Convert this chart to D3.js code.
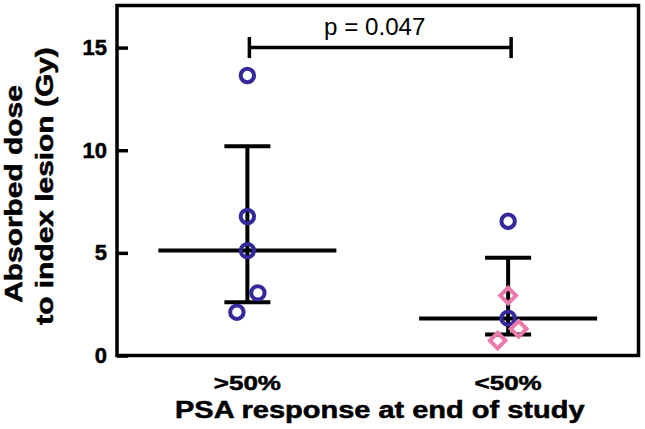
<!DOCTYPE html>
<html>
<head>
<meta charset="utf-8">
<script src="https://cdn.jsdelivr.net/npm/d3@7"></script>
<style>
  html, body { margin: 0; padding: 0; background: #fff; }
  svg { display: block; }
  text { font-family: "Liberation Sans", Arial, Helvetica, sans-serif; }
  text.heavy { stroke: #000; stroke-width: 0.5px; }
</style>
</head>
<body>
<svg id="chart" width="645" height="429"></svg>
<script>
// ---- data ----
const categories = [">50%", "<50%"];
const group1Values = [13.64, 6.77, 5.11, 3.05, 2.11];
const group1Shapes = ["circle", "circle", "circle", "circle", "circle"];
const group1Spread = [0, 0, 0, 1, -1];
const group2Values = [6.54, 2.92, 1.82, 1.30, 0.73];
const group2Shapes = ["circle", "diamond", "circle", "diamond", "diamond"];
const group2Spread = [0, 0, 0, 1, -1];
const medians = [5.11, 1.80];
const q1 = [2.60, 1.02];
const q3 = [10.19, 4.76];
const yTicks = [0, 5, 10, 15];
const pLabel = "p = 0.047";
const bracketValue = 15;
const yTitleLines = ["Absorbed dose", "to index lesion (Gy)"];
const xTitle = "PSA response at end of study";

// ---- layout ----
const svg = d3.select("#chart");
const frame = { left: 117, right: 638.5, top: 5.5, bottom: 355.5 };
const blue = "#34289a";
const pink = "#eb7aac";
const stretch = 1.26;

const y = d3.scaleLinear().domain([0, 17.05]).range([frame.bottom, frame.top]);
const x = d3.scalePoint().domain(categories).range([frame.left, frame.right]).padding(0.5);

// frame
svg.append("rect")
  .attr("x", frame.left).attr("y", frame.top)
  .attr("width", frame.right - frame.left).attr("height", frame.bottom - frame.top)
  .attr("fill", "none").attr("stroke", "#000").attr("stroke-width", 3.5);

// y axis
const yAxis = svg.append("g")
  .attr("transform", `translate(${frame.left},0)`)
  .call(d3.axisLeft(y).tickValues(yTicks).tickSizeInner(-11).tickSizeOuter(0).tickPadding(10).tickFormat(d3.format("d")));
yAxis.select(".domain").remove();
yAxis.selectAll(".tick line").attr("stroke", "#000").attr("stroke-width", 3.5);
yAxis.selectAll(".tick text")
  .attr("fill", "#000")
  .attr("class", "heavy")
  .style("font-size", "22px").style("font-weight", "bold")
  .attr("font-family", null);

// helper to stretch text horizontally
function stretchText(sel, factor) {
  sel.each(function () {
    const w = this.getComputedTextLength();
    d3.select(this).attr("textLength", w * factor).attr("lengthAdjust", "spacingAndGlyphs");
  });
}

// category labels
const catLabels = svg.append("g").selectAll("text").data(categories).join("text")
  .attr("class", "heavy")
  .attr("x", d => x(d)).attr("y", 390)
  .attr("text-anchor", "middle")
  .style("font-size", "21px").style("font-weight", "bold")
  .text(d => d);
stretchText(catLabels, 1.24);

// x title
const xt = svg.append("text")
  .attr("class", "heavy")
  .attr("x", (frame.left + frame.right) / 2 + 2).attr("y", 418)
  .attr("text-anchor", "middle")
  .style("font-size", "23px").style("font-weight", "bold")
  .text(xTitle);
stretchText(xt, stretch);

// y title (two lines)
const yCenters = [194, 186];
const yBase = [22, 53];
yTitleLines.forEach((t, i) => {
  const el = svg.append("text")
    .attr("class", "heavy")
    .attr("transform", `translate(${yBase[i]},${yCenters[i]}) rotate(-90)`)
    .attr("text-anchor", "middle")
    .style("font-size", "23px").style("font-weight", "bold")
    .text(t);
  stretchText(el, 1.3);
});

// median + IQR bars
const meanHalf = 89, capHalf = 23;
const stats = categories.map((c, i) => ({ c, med: medians[i], lo: q1[i], hi: q3[i] }));
const bars = svg.append("g").attr("stroke", "#000").attr("stroke-width", 4);
bars.selectAll(".vert").data(stats).join("line")
  .attr("x1", d => x(d.c)).attr("x2", d => x(d.c))
  .attr("y1", d => y(d.lo)).attr("y2", d => y(d.hi));
bars.selectAll(".capHi").data(stats).join("line")
  .attr("x1", d => x(d.c) - capHalf).attr("x2", d => x(d.c) + capHalf)
  .attr("y1", d => y(d.hi)).attr("y2", d => y(d.hi));
bars.selectAll(".capLo").data(stats).join("line")
  .attr("x1", d => x(d.c) - capHalf).attr("x2", d => x(d.c) + capHalf)
  .attr("y1", d => y(d.lo)).attr("y2", d => y(d.lo));
bars.selectAll(".med").data(stats).join("line")
  .attr("x1", d => x(d.c) - meanHalf).attr("x2", d => x(d.c) + meanHalf)
  .attr("y1", d => y(d.med)).attr("y2", d => y(d.med));

// points
const spreadPx = 10.5;
const pts = [];
group1Values.forEach((v, i) => pts.push({ c: categories[0], v, s: group1Shapes[i], o: group1Spread[i] }));
group2Values.forEach((v, i) => pts.push({ c: categories[1], v, s: group2Shapes[i], o: group2Spread[i] }));

const pg = svg.append("g");
pg.selectAll("circle").data(pts.filter(p => p.s === "circle")).join("circle")
  .attr("cx", d => x(d.c) + d.o * spreadPx).attr("cy", d => y(d.v))
  .attr("r", 6.7).attr("fill", "none").attr("stroke", blue).attr("stroke-width", 4);
const dh = 7.8;
pg.selectAll("path").data(pts.filter(p => p.s === "diamond")).join("path")
  .attr("d", d => {
    const cx = x(d.c) + d.o * spreadPx, cy = y(d.v);
    return `M${cx},${cy - dh}L${cx + dh},${cy}L${cx},${cy + dh}L${cx - dh},${cy}Z`;
  })
  .attr("fill", "none").attr("stroke", pink).attr("stroke-width", 4).attr("stroke-linejoin", "miter");

// significance bracket
const by = y(bracketValue);
const br = svg.append("g").attr("stroke", "#000").attr("stroke-width", 3.5);
br.append("line").attr("x1", x(categories[0]) + 2).attr("x2", x(categories[1]) + 3).attr("y1", by).attr("y2", by);
[x(categories[0]) + 2, x(categories[1]) + 3].forEach(bx => {
  br.append("line").attr("x1", bx).attr("x2", bx).attr("y1", by - 10.5).attr("y2", by + 10.5);
});
const pt = svg.append("text")
  .attr("x", (x(categories[0]) + x(categories[1])) / 2 - 3).attr("y", 35)
  .attr("text-anchor", "middle")
  .style("font-size", "23px")
  .text(pLabel);
stretchText(pt, 1.05);
</script>
</body>
</html>
